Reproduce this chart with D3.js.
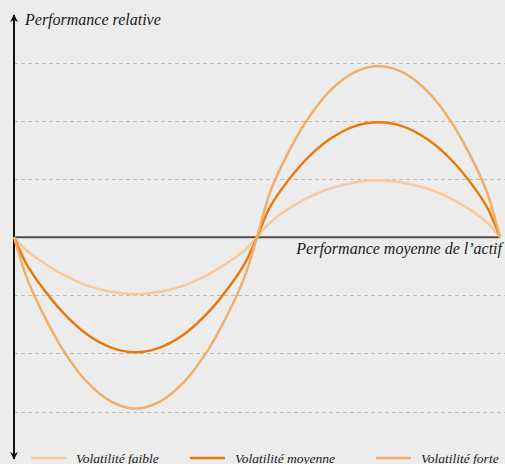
<!DOCTYPE html>
<html>
<head>
<meta charset="utf-8">
<script src="https://cdn.jsdelivr.net/npm/d3@7"></script>
<style>
  body { margin: 0; background: #ececec; }
  svg { display: block; }
</style>
</head>
<body>
<div id="chart"></div>
<script>
var width = 505;
var height = 464;
var serif = "'Liberation Serif', 'Times New Roman', Times, serif";

// positions along the asset's performance axis (0 = start, 1 = middle, 2 = end)
var xs = [0, 0.05, 0.1, 0.2, 0.3, 0.4, 0.5, 0.6, 0.7, 0.8, 0.9, 0.95,
          1, 1.05, 1.1, 1.2, 1.3, 1.4, 1.5, 1.6, 1.7, 1.8, 1.9, 1.95, 2];
// relative performance, in grid units
var faible  = [0, -0.22, -0.38, -0.64, -0.83, -0.94, -0.98, -0.94, -0.83, -0.64, -0.38, -0.22,
               0, 0.24, 0.41, 0.66, 0.84, 0.94, 0.98, 0.94, 0.84, 0.66, 0.41, 0.24, 0];
var moyenne = [0, -0.45, -0.77, -1.29, -1.67, -1.9, -1.98, -1.9, -1.67, -1.29, -0.77, -0.45,
               0, 0.49, 0.82, 1.33, 1.69, 1.91, 1.98, 1.91, 1.69, 1.33, 0.82, 0.49, 0];
var forte   = [0, -0.67, -1.15, -1.93, -2.49, -2.83, -2.95, -2.83, -2.49, -1.93, -1.15, -0.67,
               0, 0.73, 1.22, 1.98, 2.52, 2.84, 2.95, 2.84, 2.52, 1.98, 1.22, 0.73, 0];
var gridLevels = [-3, -2, -1, 1, 2, 3];
var seriesNames = ['Volatilité faible', 'Volatilité moyenne', 'Volatilité forte'];
var colours = ['#f8ca9b', '#e8790b', '#f2ae69'];

var series = [faible, moyenne, forte];

var svg = d3.select("#chart")
    .append("svg")
    .attr("width", width)
    .attr("height", height);

var xScale = d3.scaleLinear().domain([0, 2]).range([14, 500]);
var yScale = d3.scaleLinear().domain([-3, 3]).range([411.5, 63]);

// dashed grid
svg.selectAll(".grid")
    .data(gridLevels)
    .enter().append("line")
    .attr("class", "grid")
    .attr("x1", 14).attr("x2", width)
    .attr("y1", function(d){ return Math.round(yScale(d)) + 0.5; })
    .attr("y2", function(d){ return Math.round(yScale(d)) + 0.5; })
    .style("stroke", "#bdbdbd")
    .style("stroke-width", 1)
    .style("stroke-dasharray", "4,3");

// zero line
svg.append("line")
    .attr("x1", 14).attr("x2", 500)
    .attr("y1", yScale(0)).attr("y2", yScale(0))
    .style("stroke", "#4d4d4d")
    .style("stroke-width", 2);

// y axis with arrows
svg.append("defs").append("marker")
    .attr("id", "arrow")
    .attr("viewBox", "0 0 10 10")
    .attr("refX", 9).attr("refY", 5)
    .attr("markerWidth", 4).attr("markerHeight", 4)
    .attr("markerUnits", "strokeWidth")
    .attr("orient", "auto-start-reverse")
    .append("path")
    .attr("d", "M0,0 L10,5 L0,10 L3,5 Z")
    .style("fill", "#111");

svg.append("line")
    .attr("x1", 14).attr("x2", 14)
    .attr("y1", 15).attr("y2", 459)
    .attr("marker-start", "url(#arrow)")
    .attr("marker-end", "url(#arrow)")
    .style("stroke", "#111")
    .style("stroke-width", 2);

var line = d3.line()
    .x(function(d, i){ return xScale(xs[i]); })
    .y(function(d){ return yScale(d); })
    .curve(d3.curveCatmullRom.alpha(0.5));

svg.selectAll(".curve")
    .data(series)
    .enter().append("path")
    .attr("class", "curve")
    .attr("d", line)
    .style("fill", "none")
    .style("stroke", function(d, i){ return colours[i]; })
    .style("stroke-width", 2.5);

svg.append("text")
    .attr("x", 25).attr("y", 25)
    .attr("font-family", serif)
    .attr("font-style", "italic")
    .attr("font-size", 16)
    .attr("fill", "#1a1a1a")
    .text("Performance relative");

svg.append("text")
    .attr("x", 502).attr("y", 254)
    .attr("text-anchor", "end")
    .attr("font-family", serif)
    .attr("font-style", "italic")
    .attr("font-size", 16)
    .attr("fill", "#1a1a1a")
    .text("Performance moyenne de l\u2019actif");

// legend
var legendX = [31, 190, 376];
var legend = svg.selectAll(".legend")
    .data(seriesNames)
    .enter().append("g")
    .attr("class", "legend")
    .attr("transform", function(d, i){ return "translate(" + legendX[i] + ",458)"; });

legend.append("line")
    .attr("x1", 0).attr("x2", 35)
    .style("stroke", function(d, i){ return colours[i]; })
    .style("stroke-width", 2.5);

legend.append("text")
    .attr("x", 45).attr("y", 4.5)
    .attr("font-family", serif)
    .attr("font-style", "italic")
    .attr("font-size", 13.5)
    .attr("fill", "#1a1a1a")
    .text(function(d){ return d; });
</script>
</body>
</html>
